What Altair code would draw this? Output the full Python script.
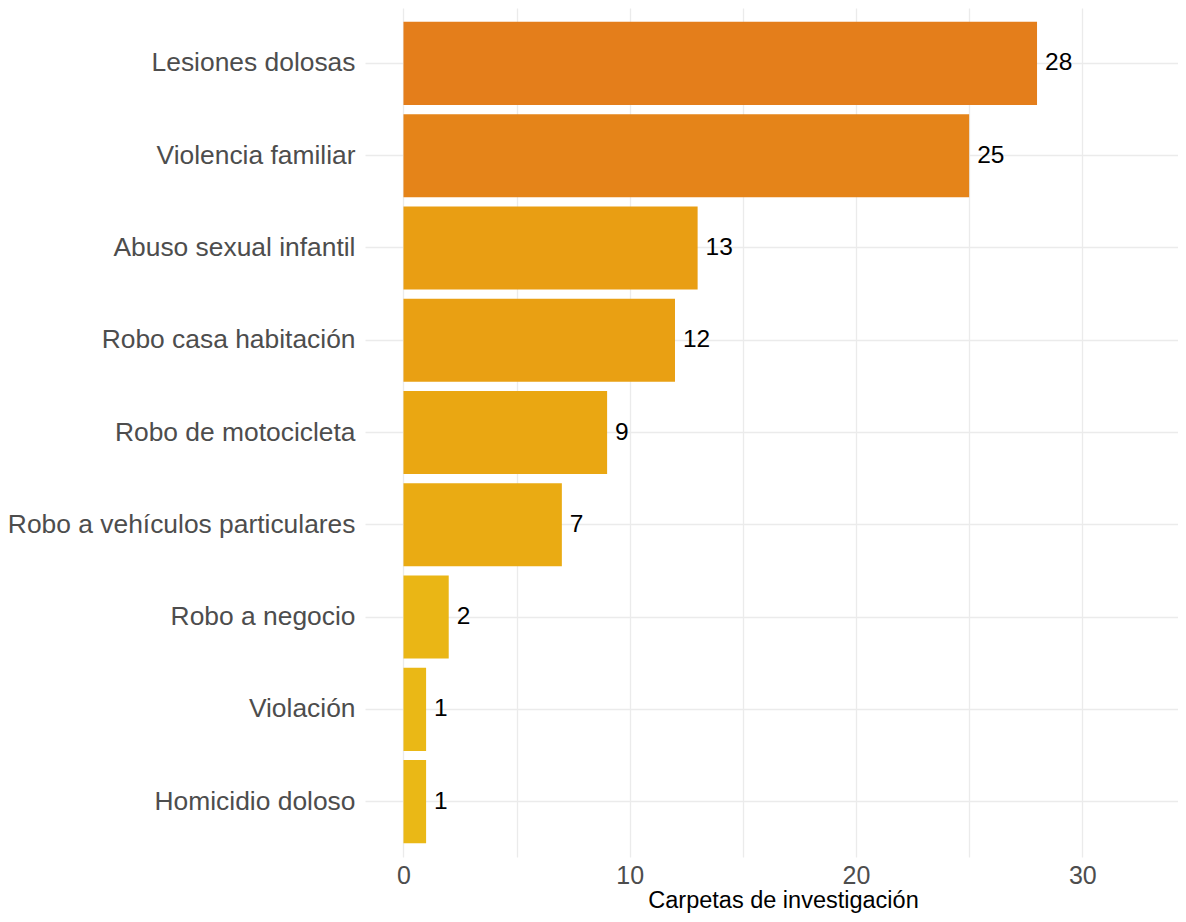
import altair as alt
import pandas as pd

categorias = [
    "Lesiones dolosas",
    "Violencia familiar",
    "Abuso sexual infantil",
    "Robo casa habitación",
    "Robo de motocicleta",
    "Robo a vehículos particulares",
    "Robo a negocio",
    "Violación",
    "Homicidio doloso",
]
carpetas = [28, 25, 13, 12, 9, 7, 2, 1, 1]
x_ticks = [0, 5, 10, 15, 20, 25, 30]

df = pd.DataFrame({"delito": categorias, "carpetas": carpetas})

FONT = "Liberation Sans"

x_enc = alt.X(
    "carpetas:Q",
    scale=alt.Scale(domain=[-1.70, 34.23], nice=False, zero=False),
    axis=alt.Axis(
        values=x_ticks,
        labelExpr="datum.value % 10 == 0 ? datum.label : ''",
        title="Carpetas de investigación",
        titleFont=FONT,
        titleFontSize=23.5,
        titleFontWeight="normal",
        titleColor="#000000",
        titleBaseline="alphabetic",
        titleY=50,
        titleX=418,
        titleAlign="center",
        labelFont=FONT,
        labelFontSize=25,
        labelColor="#4D4D4D",
        labelPadding=6,
        ticks=False,
        tickSize=0,
        domain=False,
        grid=True,
        gridColor="#EBEBEB",
        gridWidth=1.3,
    ),
)

y_enc = alt.Y(
    "delito:N",
    sort=categorias,
    scale=alt.Scale(paddingInner=0.1, paddingOuter=0.15),
    axis=alt.Axis(
        title=None,
        ticks=False,
        tickSize=0,
        domain=False,
        labelPadding=10,
        labelFont=FONT,
        labelFontSize=26.4,
        labelColor="#4D4D4D",
        labelLimit=0,
        grid=True,
        gridColor="#EBEBEB",
        gridWidth=1.3,
        bandPosition=0.5,
    ),
)

color_enc = alt.Color(
    "carpetas:Q",
    scale=alt.Scale(domain=[1, 28], range=["#EAB816", "#E47E1B"]),
    legend=None,
)

bars = alt.Chart(df).mark_bar().encode(
    x=x_enc,
    x2=alt.datum(0),
    y=y_enc,
    color=color_enc,
)

labels = alt.Chart(df).mark_text(
    align="left", baseline="middle", dx=8, font=FONT, fontSize=24.5, color="#000000"
).encode(
    x=alt.X("carpetas:Q"),
    y=alt.Y("delito:N", sort=categorias),
    text=alt.Text("carpetas:Q"),
)

chart = (
    alt.layer(bars, labels)
    .properties(
        width=813,
        height=849,
        autosize=alt.AutoSizeParams(type="none"),
        padding={"left": 357, "top": 0, "right": 0, "bottom": 57},
        background="#FFFFFF",
    )
    .configure_view(stroke=None)
)

chart.save("out.html", embed_options={"renderer": "svg", "actions": False})
